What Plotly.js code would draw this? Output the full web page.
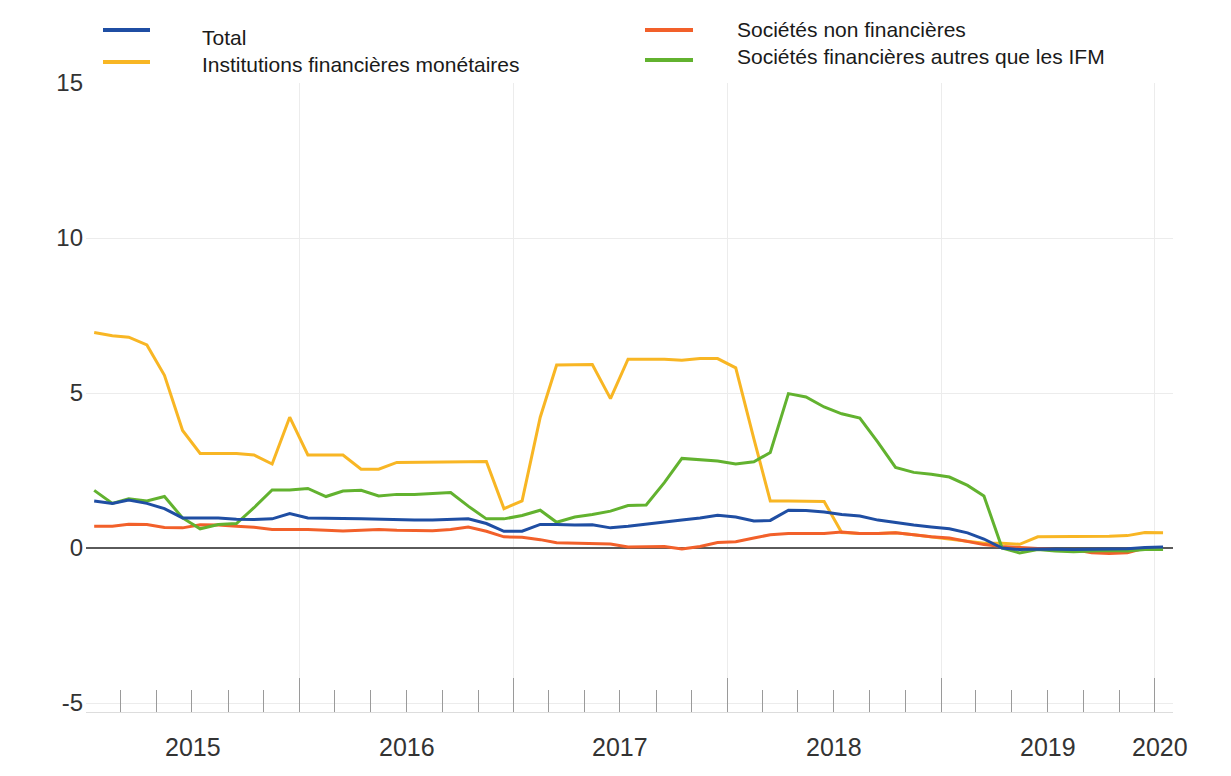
<!DOCTYPE html>
<html>
<head>
<meta charset="utf-8">
<script src="https://cdn.plot.ly/plotly-3.0.1.min.js"></script>
<style>
  html, body { margin: 0; padding: 0; background: #ffffff; }
  #chart { width: 1231px; height: 776px; }
</style>
</head>
<body>
<div id="chart"></div>
<script>
// ---------- DATA ----------
const months = [
  "2015-01","2015-02","2015-03","2015-04","2015-05","2015-06","2015-07","2015-08","2015-09","2015-10","2015-11","2015-12",
  "2016-01","2016-02","2016-03","2016-04","2016-05","2016-06","2016-07","2016-08","2016-09","2016-10","2016-11","2016-12",
  "2017-01","2017-02","2017-03","2017-04","2017-05","2017-06","2017-07","2017-08","2017-09","2017-10","2017-11","2017-12",
  "2018-01","2018-02","2018-03","2018-04","2018-05","2018-06","2018-07","2018-08","2018-09","2018-10","2018-11","2018-12",
  "2019-01","2019-02","2019-03","2019-04","2019-05","2019-06","2019-07","2019-08","2019-09","2019-10","2019-11","2019-12",
  "2020-01"
];

const total = [1.52,1.44,1.55,1.44,1.27,0.97,0.97,0.97,0.93,0.92,
  0.94,1.11,0.97,0.95,0.95,0.94,0.92,0.90,0.90,0.90,
  0.92,0.94,0.79,0.54,0.54,0.76,0.76,0.74,0.75,0.65,
  0.70,0.76,0.83,0.90,0.97,1.06,1.00,0.87,0.89,1.22,
  1.21,1.16,1.08,1.03,0.90,0.81,0.74,0.68,0.62,0.49,
  0.29,0.00,-0.05,-0.03,-0.05,-0.05,-0.04,-0.03,-0.02,0.02,0.03];

const ifm = [6.95,6.85,6.80,6.55,5.57,3.79,3.05,3.05,3.05,3.00,
  2.71,4.22,3.00,3.00,3.00,2.54,2.54,2.76,2.76,2.76,
  2.76,2.78,2.79,1.27,1.52,4.22,5.90,5.92,5.92,4.82,
  6.09,6.09,6.09,6.06,6.11,6.11,5.81,3.52,1.52,1.52,
  1.52,1.50,0.50,0.47,0.47,0.49,0.43,0.36,0.30,0.22,
  0.15,0.15,0.12,0.36,0.36,0.36,0.37,0.38,0.40,0.50,0.49];

const snf = [0.70,0.70,0.77,0.76,0.66,0.65,0.75,0.74,0.70,0.67,
  0.60,0.60,0.60,0.57,0.55,0.57,0.60,0.57,0.56,0.56,
  0.60,0.68,0.54,0.36,0.35,0.27,0.17,0.15,0.13,0.13,
  0.03,0.04,0.05,-0.03,0.05,0.18,0.20,0.32,0.43,0.47,
  0.48,0.47,0.52,0.47,0.47,0.49,0.43,0.36,0.32,0.22,
  0.11,0.05,0.02,-0.03,-0.05,-0.05,-0.15,-0.18,-0.15,0.00,0.00];

const otherFin = [1.86,1.44,1.59,1.52,1.66,0.97,0.62,0.76,0.79,1.30,
  1.87,1.87,1.92,1.66,1.84,1.86,1.68,1.73,1.73,1.76,
  1.79,1.35,0.94,0.94,1.05,1.22,0.83,1.00,1.08,1.19,
  1.37,1.39,2.11,2.89,2.85,2.81,2.71,2.78,3.08,4.98,
  4.87,4.55,4.33,4.19,3.41,2.60,2.44,2.38,2.29,2.02,
  1.68,0.00,-0.16,-0.05,-0.10,-0.12,-0.10,-0.08,-0.10,-0.05,-0.05];

const seriesNames = ["Total", "Institutions financières monétaires", "Sociétés non financières", "Sociétés financières autres que les IFM"];

const yTickVals = [-5, 0, 5, 10, 15];
const yTickText = ["-5", "0", "5", "10", "15"];
const yearStarts = ["2015-01-01","2016-01-01","2017-01-01","2018-01-01","2019-01-01","2020-01-01"];
const yearLabelPos = ["2015-07-02","2016-07-02","2017-07-02","2018-07-02","2019-07-02","2020-01-10"];
const yearLabels = ["2015","2016","2017","2018","2019","2020"];

// ---------- STYLE / LAYOUT ----------
const colors = {
  "Total": "#1f4ea3",
  "Institutions financières monétaires": "#f8b624",
  "Sociétés non financières": "#f2602a",
  "Sociétés financières autres que les IFM": "#62b22f"
};
const valuesByName = {
  "Total": total,
  "Institutions financières monétaires": ifm,
  "Sociétés non financières": snf,
  "Sociétés financières autres que les IFM": otherFin
};
const xDates = months.map(m => m + "-15");
const drawOrder = [1, 2, 3, 0];

const traces = drawOrder.map(i => {
  const n = seriesNames[i];
  return {
    type: "scatter", mode: "lines", name: n,
    x: xDates, y: valuesByName[n],
    line: { color: colors[n], width: 3 },
    showlegend: false, hoverinfo: "x+y+name"
  };
});

// Custom legend (pixel layout of the reference)
const W = 1231, H = 776;
const mL = 86, mR = 58, mT = 83, mB = 64;
const pw = W - mL - mR, ph = H - mT - mB;
const px2x = p => (p - mL) / pw;
const px2y = p => (H - mB - p) / ph;
const legendSlots = [
  { x0: 103, x1: 150, ly: 30, tx: 200, ty: 38 },
  { x0: 103, x1: 150, ly: 62, tx: 200, ty: 65 },
  { x0: 645, x1: 693, ly: 30, tx: 735, ty: 30 },
  { x0: 645, x1: 693, ly: 60, tx: 735, ty: 57 }
];
const shapes = [];
const annotations = [];
seriesNames.forEach((n, i) => {
  const s = legendSlots[i];
  shapes.push({
    type: "line", xref: "paper", yref: "paper",
    x0: px2x(s.x0), x1: px2x(s.x1), y0: px2y(s.ly), y1: px2y(s.ly),
    line: { color: colors[n], width: 4 }
  });
  annotations.push({
    xref: "paper", yref: "paper", x: px2x(s.tx), y: px2y(s.ty),
    xanchor: "left", yanchor: "middle", showarrow: false, text: n,
    font: { family: "Liberation Sans, Arial, sans-serif", size: 21, color: "#1a1a1a" }
  });
});

// Year labels under the time axis
yearLabels.forEach((lab, i) => {
  annotations.push({
    xref: "x", yref: "paper", x: yearLabelPos[i], y: 0,
    xanchor: "center", yanchor: "top", yshift: -19, showarrow: false, text: lab,
    font: { family: "Liberation Sans, Arial, sans-serif", size: 25, color: "#333333" }
  });
});

const xRange = ["2015-01-01", "2020-02-01"];

const layout = {
  width: W, height: H,
  margin: { l: mL, r: mR, t: mT, b: mB, pad: 0 },
  paper_bgcolor: "#ffffff", plot_bgcolor: "#ffffff",
  font: { family: "Liberation Sans, Arial, sans-serif", color: "#333333" },
  showlegend: false,
  xaxis: {
    type: "date", range: xRange,
    tickmode: "array", tickvals: yearStarts, showticklabels: false,
    ticks: "inside", ticklen: 34, tickwidth: 1, tickcolor: "#9a9a9a",
    showgrid: true, gridcolor: "#ececec", gridwidth: 1,
    showline: true, linecolor: "#dddddd", linewidth: 1,
    zeroline: false,
    minor: { dtick: "M2", tick0: "2015-01-01", ticks: "inside", ticklen: 22, tickwidth: 1, tickcolor: "#9a9a9a", showgrid: false },
    fixedrange: true
  },
  yaxis: {
    range: [-5.29, 15],
    tickmode: "array", tickvals: yTickVals, ticktext: yTickText,
    ticks: "", showgrid: true, gridcolor: "#ececec", gridwidth: 1,
    zeroline: true, zerolinecolor: "#5a5a5a", zerolinewidth: 1.5,
    showline: false,
    tickfont: { size: 24, color: "#333333" },
    ticklabelstandoff: 2,
    fixedrange: true
  },
  shapes: shapes,
  annotations: annotations
};

Plotly.newPlot("chart", traces, layout, { displayModeBar: false, staticPlot: true });
</script>
</body>
</html>
